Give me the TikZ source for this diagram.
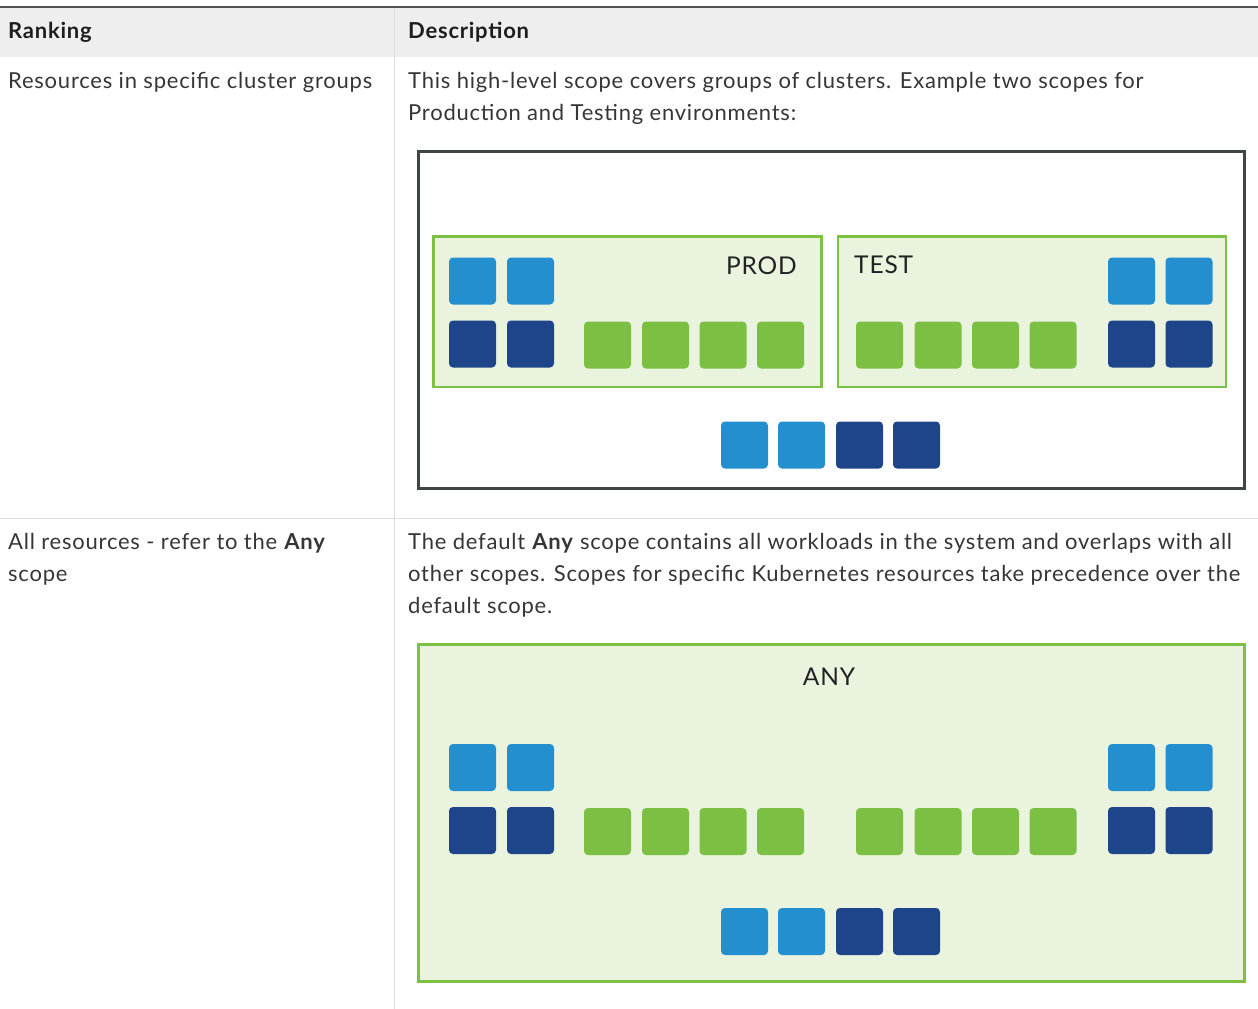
\documentclass[tikz,border=0pt]{standalone}
\usepackage{fontspec}
\setmainfont{Lato}[LetterSpace=3.5]
\definecolor{lb}{HTML}{248FCF}
\definecolor{db}{HTML}{1E4589}
\definecolor{gr}{HTML}{7BBF43}
\definecolor{lgfill}{HTML}{E9F3DE}
\definecolor{grborder}{HTML}{7CC144}
\definecolor{outerc}{HTML}{404646}
\definecolor{hdrbg}{HTML}{EEEEEE}
\definecolor{gridc}{HTML}{DDDDDD}
\definecolor{topc}{HTML}{555555}
\definecolor{txt}{HTML}{363636}
\definecolor{hdrtxt}{HTML}{1E1E1E}
\definecolor{lbl}{HTML}{222222}
\tikzset{
  cell/.style={inner sep=0pt, rounded corners=4pt, minimum size=47pt},
  sqlb/.style={cell, fill=lb},
  sqdb/.style={cell, fill=db},
  sqgr/.style={cell, fill=gr},
  body/.style={anchor=base west, inner sep=0pt, text=txt, font=\fontsize{22}{26}\selectfont},
  hdr/.style={anchor=base west, inner sep=0pt, text=hdrtxt, font=\fontsize{22}{26}\selectfont\bfseries},
  lab/.style={inner sep=0pt, text=lbl, font=\fontsize{24.5}{29}\selectfont},
  scopebox/.style={draw=grborder, fill=lgfill, line width=2.6pt},
}
\begin{document}
\begin{tikzpicture}[x=1pt,y=-1pt]
\useasboundingbox (0,0) rectangle (1258,1009);
\fill[white] (0,0) rectangle (1258,1009);
% header
\fill[hdrbg] (0,7) rectangle (1258,57);
\draw[topc, line width=1.8pt] (0,7) -- (1258,7);
\draw[gridc, line width=1pt] (394,8) -- (394,1009);
\draw[gridc, line width=1pt] (0,518.5) -- (1258,518.5);
\node[hdr] (hrank) at (8,38.5) {Ranking};
\node[hdr] (hdesc) at (408,38.5) {Description};
% row 1 text
\node[body] (r1l) at (8,88.5) {Resources in specific cluster groups};
\node[body] (r1a) at (408,88.5) {This high-level scope covers groups of clusters. Example two scopes for};
\node[body] (r1b) at (408,120.5) {Production and Testing environments:};
% row 2 text
\node[body] (r2l1) at (8,549.5) {All resources - refer to the \textbf{Any}};
\node[body] (r2l2) at (8,581.5) {scope};
\node[body] (r2a) at (408,549.5) {The default \textbf{Any} scope contains all workloads in the system and overlaps with all};
\node[body] (r2b) at (408,581.5) {other scopes. Scopes for specific Kubernetes resources take precedence over the};
\node[body] (r2c) at (408,613.5) {default scope.};
% diagram 1
\draw[outerc, line width=3pt] (418.5,151.5) rectangle (1244.5,488.5);
\draw[scopebox] (433.5,236.5) rectangle (821.5,386.8);
\draw[scopebox] (838,236.5) rectangle (1226,386.8);
\node[lab, anchor=base east] (prod) at (797,274) {PROD};
\node[lab, anchor=base west] (test) at (854,273.5) {TEST};
% PROD squares
\node[sqlb] (p1) at (472.5,281) {};
\node[sqlb] (p2) at (530.5,281) {};
\node[sqdb] (p3) at (472.5,344) {};
\node[sqdb] (p4) at (530.5,344) {};
\node[sqgr] (p5) at (607.5,345) {};
\node[sqgr] (p6) at (665.5,345) {};
\node[sqgr] (p7) at (723,345) {};
\node[sqgr] (p8) at (780.5,345) {};
% TEST squares
\node[sqgr] (t1) at (879.5,345) {};
\node[sqgr] (t2) at (938,345) {};
\node[sqgr] (t3) at (995.5,345) {};
\node[sqgr] (t4) at (1053,345) {};
\node[sqlb] (t5) at (1131.5,281) {};
\node[sqlb] (t6) at (1189,281) {};
\node[sqdb] (t7) at (1131.5,344) {};
\node[sqdb] (t8) at (1189,344) {};
% shared squares
\node[sqlb] (s1) at (744.5,445) {};
\node[sqlb] (s2) at (801.5,445) {};
\node[sqdb] (s3) at (859.5,445) {};
\node[sqdb] (s4) at (916.5,445) {};
% diagram 2
\draw[scopebox, line width=2.8pt] (418.5,644.5) rectangle (1244.5,981.5);
\node[lab, anchor=base] (any) at (829,685) {ANY};
\node[sqlb] (a1) at (472.5,767.5) {};
\node[sqlb] (a2) at (530.5,767.5) {};
\node[sqdb] (a3) at (472.5,830.5) {};
\node[sqdb] (a4) at (530.5,830.5) {};
\node[sqgr] (a5) at (607.5,831.5) {};
\node[sqgr] (a6) at (665.5,831.5) {};
\node[sqgr] (a7) at (723,831.5) {};
\node[sqgr] (a8) at (780.5,831.5) {};
\node[sqgr] (a9) at (879.5,831.5) {};
\node[sqgr] (a10) at (938,831.5) {};
\node[sqgr] (a11) at (995.5,831.5) {};
\node[sqgr] (a12) at (1053,831.5) {};
\node[sqlb] (a13) at (1131.5,767.5) {};
\node[sqlb] (a14) at (1189,767.5) {};
\node[sqdb] (a15) at (1131.5,830.5) {};
\node[sqdb] (a16) at (1189,830.5) {};
\node[sqlb] (a17) at (744.5,931.5) {};
\node[sqlb] (a18) at (801.5,931.5) {};
\node[sqdb] (a19) at (859.5,931.5) {};
\node[sqdb] (a20) at (916.5,931.5) {};
\end{tikzpicture}
\end{document}
